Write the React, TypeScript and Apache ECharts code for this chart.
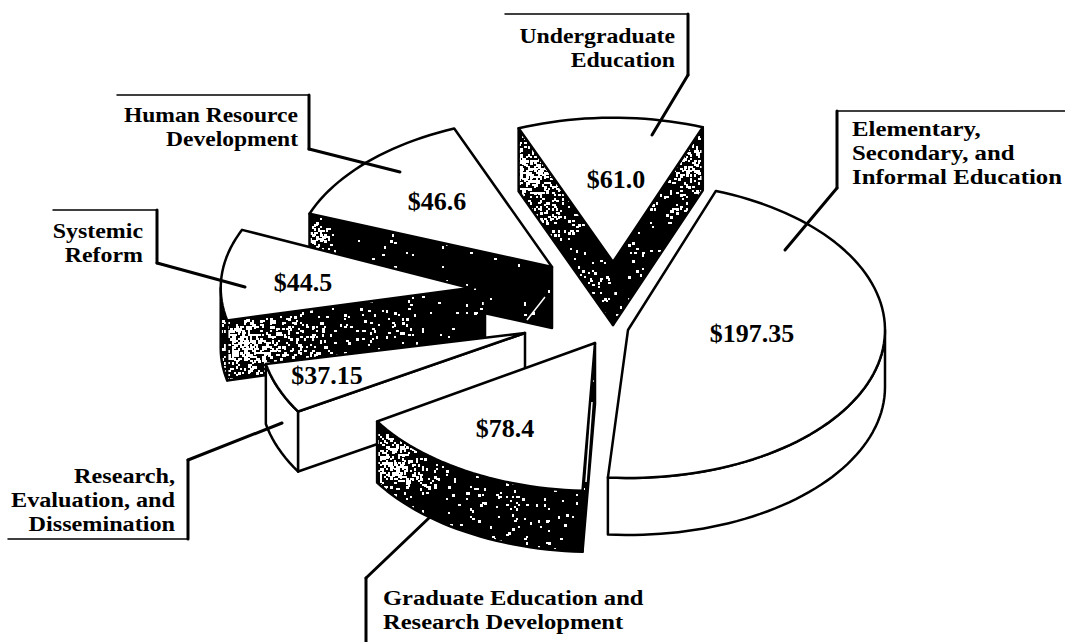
import React, { useEffect, useRef } from "react";
import * as echarts from "echarts";

const categories = [
  "Elementary, Secondary, and Informal Education",
  "Graduate Education and Research Development",
  "Research, Evaluation, and Dissemination",
  "Systemic Reform",
  "Human Resource Development",
  "Undergraduate Education",
];
const sliceValues = [197.35, 78.4, 37.15, 44.5, 46.6, 61.0];
const valueTexts = ["$197.35", "$78.4", "$37.15", "$44.5", "$46.6", "$61.0"];

// layout of the exploded 3-D pie (not data)
const START_ANGLE = 68;
const RX = 257;
const RY = 148;
const apexes = [[628, 330], [595, 343], [525, 333], [470, 288], [552, 267], [613, 262]];
const depths = [57, 61, 60, 60, 61, 63];
const radiusScales = [1, 1, 1.03, 0.97, 1.01, 0.975];
// the printed perspective is not strictly proportional: start/end corrections in degrees
const startNudge = [2, -8, -3.5, 7.3, 7.8, -3.1];
const endNudge = [-9.7, -2.5, 6, 4.8, -3.1, 1];
const darkSides = [false, true, false, true, true, true];
const sideExtend = [0, 0, 0, 15, 0, 0];
const drawOrder = [5, 0, 4, 3, 2, 1];

const labelTexts = [
  "Elementary,\nSecondary, and\nInformal Education",
  "Graduate Education and\nResearch Development",
  "Research,\nEvaluation, and\nDissemination",
  "Systemic\nReform",
  "Human Resource\nDevelopment",
  "Undergraduate\nEducation",
];
const labelAnchors = [[852, 152], [383, 609], [175, 499], [143, 243], [298, 127], [675, 48]];
const labelAligns = ["left", "left", "right", "right", "right", "right"];
const labelScales = [1.127, 1.116, 1.1, 1.087, 1.07, 1.08];
const valueAnchors = [[752, 333], [505, 428], [327, 375], [303, 282], [437, 201], [616, 179]];
const leaderLines = [
  [[1065, 111], [837, 111], [837, 188], [785, 250]],
  [[430, 517], [366, 578], [366, 642]],
  [[282, 423], [188, 460], [188, 539], [8, 539]],
  [[53, 210], [157, 210], [157, 263], [245, 287]],
  [[117, 95], [309, 95], [309, 149], [400, 172]],
  [[505, 14], [688, 14], [688, 75], [652, 135]],
];
// worn, speckled ink of the scan: [x, y, radius, strength]
const speckleSpots = [
  [533, 165, 28, 0.62], [552, 215, 22, 0.2], [585, 290, 26, 0.12],
  [692, 165, 22, 0.5], [672, 205, 16, 0.15], [640, 250, 20, 0.06],
  [316, 234, 10, 0.55],
  [245, 345, 28, 0.62], [295, 338, 30, 0.2], [375, 325, 34, 0.07],
  [388, 462, 22, 0.6], [420, 478, 26, 0.12], [500, 505, 50, 0.04],
];

function makeTexture(width: number, height: number): string {
  const c = document.createElement("canvas");
  c.width = width;
  c.height = height;
  const ctx = c.getContext("2d")!;
  ctx.fillStyle = "#000";
  ctx.fillRect(0, 0, width, height);
  ctx.fillStyle = "#fff";
  let s = 20011;
  const next = () => {
    s = (s + 0x6d2b79f5) | 0;
    let t = Math.imul(s ^ (s >>> 15), 1 | s);
    t = (t + Math.imul(t ^ (t >>> 7), 61 | t)) ^ t;
    return ((t ^ (t >>> 14)) >>> 0) / 4294967296;
  };
  for (let y = 0; y < height; y += 2) {
    for (let x = 0; x < width; x += 2) {
      let p = 0.012;
      for (const [sx, sy, r, k] of speckleSpots) {
        const dist = ((x - sx) * (x - sx) + (y - sy) * (y - sy)) / (r * r);
        if (dist < 4) p += k * Math.exp(-dist);
      }
      if (next() < p) ctx.fillRect(x, y, next() < 0.4 ? 3 : 2, next() < 0.4 ? 3 : 2);
    }
  }
  return c.toDataURL();
}

export default function App() {
  const ref = useRef<HTMLDivElement>(null);
  useEffect(() => {
    document.body.style.margin = "0";
    document.body.style.background = "#fff";
    const texture = makeTexture(1065, 642);
    const total = sliceValues.reduce((a, b) => a + b, 0);
    const angles: number[][] = [];
    let cursor = START_ANGLE;
    sliceValues.forEach((v, i) => {
      const span = (v / total) * 360;
      angles.push([cursor + startNudge[i], cursor - span + endNudge[i]]);
      cursor -= span;
    });

    const renderItem = (_params: any, api: any) => {
      const i = api.value(0) as number;
      const [ax, ay] = apexes[i];
      const r = radiusScales[i];
      const d = depths[i];
      const [a0, a1] = angles[i];
      const pt = (deg: number, dy = 0) => {
        const t = (deg * Math.PI) / 180;
        return [ax + RX * r * Math.cos(t), ay - RY * r * Math.sin(t) + dy];
      };
      const arc = (from: number, to: number, dy = 0) => {
        const n = Math.max(2, Math.ceil(Math.abs(from - to) / 2));
        const pts: number[][] = [];
        for (let k = 0; k <= n; k++) pts.push(pt(from + ((to - from) * k) / n, dy));
        return pts;
      };
      const children: any[] = [];
      const poly = (points: number[][], dark: boolean) => {
        children.push({
          type: "polygon",
          shape: { points },
          style: { fill: dark ? "#000" : "#fff", stroke: "none" },
        });
        if (dark) {
          children.push({
            type: "image",
            style: { image: texture, x: 0, y: 0, width: 1065, height: 642 },
            clipPath: { type: "polygon", shape: { points } },
          });
        }
        children.push({
          type: "polygon",
          shape: { points },
          style: { fill: "none", stroke: "#000", lineWidth: 2.5, lineJoin: "round" },
        });
      };
      // visible part of the rim: lower half of the ellipse
      const rimFrom = Math.min(a0, 0);
      const rimTo = Math.max(a1, -180);
      if (rimFrom > rimTo) poly([...arc(rimFrom, rimTo), ...arc(rimTo, rimFrom, d)], darkSides[i]);
      // cut faces turned toward the viewer
      const face = (deg: number, extend: number) => {
        const c = pt(deg);
        const e = [ax + extend, ay + (extend * (c[1] - ay)) / (c[0] - ax)];
        poly([c, e, [e[0], e[1] + d], [c[0], c[1] + d]], darkSides[i]);
      };
      if (Math.cos((a0 * Math.PI) / 180) < 0) face(a0, sideExtend[i]);
      if (Math.cos((a1 * Math.PI) / 180) > 0) face(a1, 0);
      // top surface
      poly([[ax, ay], ...arc(a0, a1)], false);
      return { type: "group", children };
    };

    const chart = echarts.init(ref.current!, undefined, { renderer: "svg" });
    const graphics: any[] = [];
    leaderLines.forEach((pts) => {
      pts.slice(0, -1).forEach((p, k) => {
        const q = pts[k + 1];
        const horizontal = p[1] === q[1];
        graphics.push({
          type: "line",
          z: 10,
          shape: { x1: p[0], y1: p[1], x2: q[0], y2: q[1] },
          style: { stroke: "#000", lineWidth: horizontal ? 1.5 : 3, lineCap: "round" },
        });
      });
    });
    labelTexts.forEach((t, i) => {
      graphics.push({
        type: "text",
        z: 10,
        x: labelAnchors[i][0],
        y: labelAnchors[i][1],
        scaleX: labelScales[i],
        style: {
          text: t,
          x: 0,
          y: 0,
          align: labelAligns[i],
          verticalAlign: "middle",
          font: 'bold 22px "Liberation Serif"',
          lineHeight: 24,
          fill: "#000",
        },
      });
    });
    valueTexts.forEach((t, i) => {
      graphics.push({
        type: "text",
        z: 10,
        x: valueAnchors[i][0],
        y: valueAnchors[i][1],
        style: {
          text: t,
          x: 0,
          y: 0,
          align: "center",
          verticalAlign: "middle",
          font: 'bold 26px "Liberation Serif"',
          fill: "#000",
        },
      });
    });
    // streaks of the scan on the dark faces
    [[[527, 320], [545, 297]], [[592, 402], [586, 482]]].forEach(([p, q]) =>
      graphics.push({
        type: "line",
        z: 10,
        shape: { x1: p[0], y1: p[1], x2: q[0], y2: q[1] },
        style: { stroke: "#fff", lineWidth: 1.5 },
      })
    );

    chart.setOption({
      animation: false,
      backgroundColor: "#fff",
      tooltip: { show: false },
      series: [
        {
          type: "custom",
          name: "Budget",
          coordinateSystem: "none",
          silent: true,
          z: 1,
          renderItem,
          data: drawOrder.map((i) => ({ name: categories[i], value: [i, sliceValues[i]] })),
        },
      ],
      graphic: { elements: graphics },
    });
    return () => chart.dispose();
  }, []);
  return <div ref={ref} style={{ width: 1065, height: 642 }} />;
}
